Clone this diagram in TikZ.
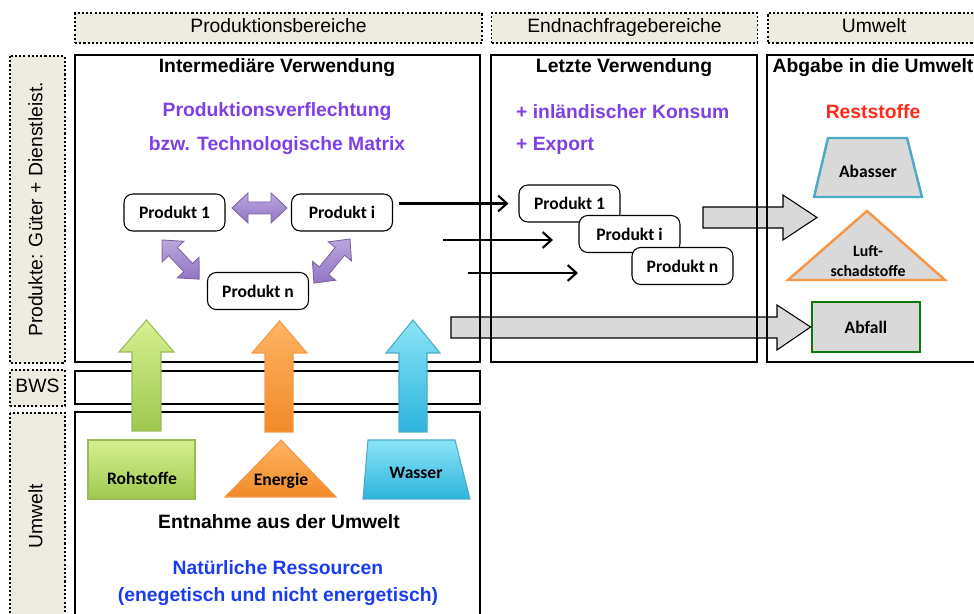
\documentclass[tikz,border=0pt]{standalone}
\usepackage{fontspec}
\setmainfont{Liberation Sans}
\newfontfamily\calibri{Carlito}
\usetikzlibrary{arrows.meta, positioning, calc}

\definecolor{hdrfill}{HTML}{EEEBE0}
\definecolor{matrixpurple}{HTML}{7F3FE6}
\definecolor{restred}{HTML}{FF2A1A}
\definecolor{resblue}{HTML}{1A3CF0}
\definecolor{dpurple}{HTML}{8064A2}
\definecolor{lpurple}{HTML}{BBA6DE}
\definecolor{mpurple}{HTML}{9176C4}
\definecolor{wcyan}{HTML}{4BACC6}
\definecolor{lorange}{HTML}{F79646}
\definecolor{dgreen}{HTML}{0B7A0B}
\definecolor{lgreen}{HTML}{9BBB59}
\definecolor{boxgrey}{HTML}{D9D9D9}
\definecolor{rohtop}{HTML}{D6F090}
\definecolor{rohbot}{HTML}{9EC850}
\definecolor{enetop}{HTML}{FFB464}
\definecolor{enebot}{HTML}{F08A28}
\definecolor{wastop}{HTML}{8CE4F8}
\definecolor{wasbot}{HTML}{2CB4DC}

\tikzset{
  hdr/.style={draw, fill=hdrfill, line width=1pt, dash pattern=on 1.2pt off 1.2pt,
    inner sep=0pt, text height=8pt, text depth=2.5pt, font=\fontsize{11}{13}\selectfont},
  area/.style={draw, line width=1.6pt},
  title/.style={font=\bfseries\fontsize{11}{13}\selectfont},
  prod/.style={draw, rounded corners=5pt, line width=0.6pt, fill=white,
    minimum width=2.02cm, minimum height=0.74cm, inner sep=0pt,
    font=\calibri\bfseries\fontsize{10}{12}\selectfont},
  small/.style={font=\calibri\bfseries\fontsize{10}{12}\selectfont},
  linkarrow/.style={draw=dpurple, line width=0.5pt, top color=lpurple, bottom color=mpurple},
  blockarr/.style={draw=black, fill=boxgrey, line width=0.6pt},
  thinarr/.style={line width=1.2pt, -{Straight Barb[length=5pt, width=9pt]}},
  rohstyle/.style={draw=lgreen, line width=0.6pt, top color=rohtop, bottom color=rohbot},
  enestyle/.style={draw=lorange, line width=0.6pt, top color=enetop, bottom color=enebot},
  wasstyle/.style={draw=wcyan, line width=0.6pt, top color=wastop, bottom color=wasbot}
}

\begin{document}
\begin{tikzpicture}[x=0.02cm, y=-0.02cm]
    \useasboundingbox (0,0) rectangle (974,614);

    % Headers
    \node[hdr, minimum width=8.14cm, minimum height=0.6cm] (hprod) at (278.5,28) {Produktionsbereiche};
    \node[hdr, minimum width=5.32cm, minimum height=0.6cm] (hend) at (624.5,28) {Endnachfragebereiche};
    \node[hdr, minimum width=4.24cm, minimum height=0.6cm] (humw) at (874,28) {Umwelt};

    % Row labels
    \node[hdr, rotate=90, minimum width=6.14cm, minimum height=1.1cm] (lprod) at (37.5,209.5) {Produkte: Güter + Dienstleist.};
    \node[hdr, minimum width=1.1cm, minimum height=0.72cm] (lbws) at (37.5,388) {BWS};
    \node[hdr, rotate=90, minimum width=4.14cm, minimum height=1.1cm] (lumw) at (37.5,516.5) {Umwelt};

    % Grey flows to the environment
    \draw[blockarr] (703,207) -- (783,207) -- (783,195) -- (817,217.5) -- (783,240) -- (783,228) -- (703,228) -- cycle;
    \node[draw=dgreen, line width=1.6pt, fill=boxgrey, minimum width=2.16cm, minimum height=1cm,
      small] (abfall) at (866,327) {Abfall};
    \draw[blockarr] (451,317) -- (777,317) -- (777,305) -- (abfall.west) -- (777,350) -- (777,338) -- (451,338) -- cycle;

    % Areas
    \draw[area] (75,55) rectangle (480,362);
    \draw[area] (491,55) rectangle (757,362);
    \draw[area] (767,55) rectangle (990,362);
    \draw[area] (75,371) rectangle (480,404);
    \draw[area] (75,412) rectangle (480,630);

    % Intermediaere Verwendung
    \node[title] (tint) at (277,68) {Intermediäre Verwendung};
    \node[title, text=matrixpurple] (tmat1) at (277,112) {Produktionsverflechtung};
    \node[title, text=matrixpurple] (tmat2) at (277,146) {bzw. Technologische Matrix};
    \node[prod] (p1) at (174.5,212.5) {Produkt 1};
    \node[prod] (pi) at (342,212.5) {Produkt i};
    \node[prod] (pn) at (258,291) {Produkt n};
    \foreach \sx/\sy/\ang/\len in {232/208/0/55, 162/240/-46.5/54, 350/239/-129.3/57}{
      \begin{scope}[shift={(\sx,\sy)}, rotate=\ang]
        \draw[linkarrow] (0,0) -- (16,-15) -- (16,-6) -- ({\len-16},-6) -- ({\len-16},-15)
          -- (\len,0) -- ({\len-16},15) -- ({\len-16},6) -- (16,6) -- (16,15) -- cycle;
      \end{scope}
    }

    % Letzte Verwendung
    \node[title] (tletzt) at (624,68) {Letzte Verwendung};
    \node[title, text=matrixpurple, anchor=west] (tkons) at (510,112) {+ inländischer Konsum};
    \node[title, text=matrixpurple, anchor=west] (texp) at (510,146) {+ Export};
    \node[prod] (q1) at (569.5,203.5) {Produkt 1};
    \node[prod] (qi) at (629.5,234) {Produkt i};
    \node[prod] (qn) at (682.5,266) {Produkt n};
    \coordinate (a1) at (399,203.5);
    \coordinate (a2) at (443,240);
    \coordinate (a2e) at (553,240);
    \coordinate (a3) at (468,273);
    \coordinate (a3e) at (578,273);
    \draw[thinarr, shorten >=0.2cm] (a1) -- (q1.west);
    \draw[thinarr] (a2) -- (a2e);
    \draw[thinarr] (a3) -- (a3e);

    % Abgabe in die Umwelt
    \node[title] (tabg) at (873,68) {Abgabe in die Umwelt};
    \node[title, text=restred] (trest) at (873,112) {Reststoffe};
    \draw[draw=wcyan, line width=1.4pt, fill=boxgrey] (828,138) -- (907,138) -- (922,197) -- (814,197) -- cycle;
    \node[small] (abw) at (868,171) {Abasser};
    \draw[draw=lorange, line width=1.4pt, fill=boxgrey] (867,211) -- (945,280) -- (788,280) -- cycle;
    \node[small, align=center, font=\calibri\bfseries\fontsize{9}{11}\selectfont] (luft) at (868,261) {Luft-\\schadstoffe};

    % Resources into production
    \draw[rohstyle] (132,431) -- (132,352) -- (119,352) -- (146.5,320) -- (174,352) -- (161,352) -- (161,431) -- cycle;
    \draw[enestyle] (265,432) -- (265,353) -- (252,353) -- (279.5,321) -- (307,353) -- (293,353) -- (293,432) -- cycle;
    \draw[wasstyle] (399,432) -- (399,353) -- (386,353) -- (413,320) -- (440,353) -- (427,353) -- (427,432) -- cycle;

    % Entnahme aus der Umwelt
    \draw[rohstyle] (88,440) rectangle (195,499);
    \node[small] (roh) at (142,478) {Rohstoffe};
    \draw[enestyle] (281,440) -- (336,497) -- (225,497) -- cycle;
    \node[small] (ener) at (281,481) {Energie};
    \draw[wasstyle] (368,440) -- (455,440) -- (470,499) -- (363,499) -- cycle;
    \node[small] (wass) at (416,473) {Wasser};
    \node[title] (tentn) at (279,522) {Entnahme aus der Umwelt};
    \node[title, text=resblue] (tnat1) at (278,568) {Natürliche Ressourcen};
    \node[title, text=resblue] (tnat2) at (278,597) {(enegetisch und nicht energetisch)};
\end{tikzpicture}
\end{document}
